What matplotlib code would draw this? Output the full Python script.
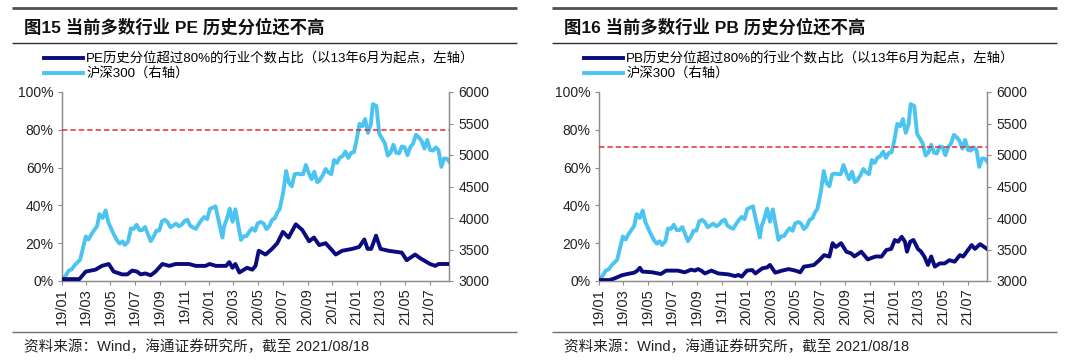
import matplotlib
matplotlib.use("Agg")
import matplotlib.pyplot as plt
import matplotlib.dates as mdates
from matplotlib.lines import Line2D
from matplotlib.ticker import MultipleLocator, FuncFormatter
import pandas as pd

plt.rcParams['font.family'] = ['Liberation Sans', 'Noto Sans CJK SC', 'DejaVu Sans']

# ---------------- data ----------------
hs300_dates = [
    "2019-01-04","2019-01-11","2019-01-18","2019-01-25","2019-02-01","2019-02-15","2019-02-22","2019-03-01",
    "2019-03-08","2019-03-15","2019-03-22","2019-03-29","2019-04-04","2019-04-12","2019-04-19","2019-04-26",
    "2019-05-10","2019-05-17","2019-05-24","2019-05-31","2019-06-06","2019-06-14","2019-06-21","2019-06-28",
    "2019-07-05","2019-07-12","2019-07-19","2019-07-26","2019-08-02","2019-08-09","2019-08-16","2019-08-23",
    "2019-08-30","2019-09-06","2019-09-13","2019-09-20","2019-09-27","2019-10-11","2019-10-18","2019-10-25",
    "2019-11-01","2019-11-08","2019-11-15","2019-11-22","2019-11-29","2019-12-06","2019-12-13","2019-12-20",
    "2019-12-27","2020-01-03","2020-01-10","2020-01-17","2020-01-23","2020-02-03","2020-02-07","2020-02-14",
    "2020-02-21","2020-02-28","2020-03-06","2020-03-13","2020-03-20","2020-03-27","2020-04-03","2020-04-10",
    "2020-04-17","2020-04-24","2020-04-30","2020-05-08","2020-05-15","2020-05-22","2020-05-29","2020-06-05",
    "2020-06-12","2020-06-19","2020-06-24","2020-07-03","2020-07-10","2020-07-17","2020-07-24","2020-07-31",
    "2020-08-07","2020-08-14","2020-08-21","2020-08-28","2020-09-04","2020-09-11","2020-09-18","2020-09-25",
    "2020-09-30","2020-10-09","2020-10-16","2020-10-23","2020-10-30","2020-11-06","2020-11-13","2020-11-20",
    "2020-11-27","2020-12-04","2020-12-11","2020-12-18","2020-12-25","2020-12-31","2021-01-08","2021-01-15",
    "2021-01-22","2021-01-29","2021-02-05","2021-02-10","2021-02-19","2021-02-26","2021-03-05","2021-03-12",
    "2021-03-19","2021-03-26","2021-04-02","2021-04-09","2021-04-16","2021-04-23","2021-04-30","2021-05-07",
    "2021-05-14","2021-05-21","2021-05-28","2021-06-04","2021-06-11","2021-06-18","2021-06-25","2021-07-02",
    "2021-07-09","2021-07-16","2021-07-23","2021-07-30","2021-08-06","2021-08-13","2021-08-18"]
hs300_values = [
    3035,3094,3168,3184,3247,3338,3521,3707,
    3658,3745,3809,3872,4062,4000,4120,3930,
    3734,3649,3593,3630,3572,3627,3835,3826,
    3893,3808,3808,3858,3747,3633,3701,3798,
    3799,3948,3972,3935,3853,3911,3869,3895,
    3952,3973,3877,3849,3828,3902,3968,4017,
    3982,4144,4164,4186,4003,3689,3865,3987,
    4149,3940,4138,3895,3653,3710,3713,3788,
    3839,3796,3912,3937,3913,3824,3867,3970,
    3996,4098,4138,4415,4747,4556,4505,4695,
    4704,4696,4695,4842,4714,4616,4735,4570,
    4587,4681,4778,4723,4695,4921,4874,4959,
    4980,5054,4954,5034,5043,5211,5495,5458,
    5570,5351,5484,5807,5778,5336,5262,5184,
    4991,5037,5162,5036,5026,5135,5123,4997,
    5125,5182,5321,5282,5224,5102,5240,5081,
    5070,5121,5080,4811,4947,4939,4899]

pe_dates = [
    "2019-01-02","2019-02-13","2019-03-01","2019-03-25","2019-04-10","2019-04-27","2019-05-09","2019-05-30",
    "2019-06-12","2019-06-24","2019-07-06","2019-07-15","2019-07-27","2019-08-09","2019-08-21","2019-09-07",
    "2019-09-24","2019-10-10","2019-11-12","2019-11-29","2019-12-23","2020-01-02","2020-01-18","2020-02-12",
    "2020-02-20","2020-02-28","2020-03-06","2020-03-16","2020-04-04","2020-04-17","2020-04-25","2020-05-03",
    "2020-05-20","2020-06-05","2020-06-18","2020-07-02","2020-07-16","2020-08-03","2020-08-19","2020-09-05",
    "2020-09-17","2020-09-30","2020-10-16","2020-11-02","2020-11-10","2020-11-26","2020-12-21","2021-01-07",
    "2021-01-20","2021-01-28","2021-02-06","2021-02-18","2021-03-01","2021-03-21","2021-04-23","2021-05-05",
    "2021-05-26","2021-06-08","2021-07-02","2021-07-15","2021-07-23","2021-08-18"]
pe_values = [
    1,1,5,6,8,9,5,3.5,
    3.5,5.5,5,3.5,4,3,5,9,
    8,9,9,8,8,9,8,8,
    10,7,9,4.5,7,6,8,16,
    14,17,20,26,23,30,27,21,
    23,19,20,16,14,16,17,18,
    22,17,17,24,17,16,15,11,
    14,12,9,8,9,9]

pb_dates = [
    "2019-01-02","2019-01-27","2019-02-09","2019-02-26","2019-03-12","2019-03-29","2019-04-06","2019-04-12",
    "2019-04-18","2019-05-13","2019-06-03","2019-06-16","2019-07-15","2019-08-01","2019-08-17","2019-08-26",
    "2019-09-03","2019-09-11","2019-09-20","2019-10-06","2019-10-23","2019-11-17","2019-12-04","2019-12-12",
    "2019-12-20","2020-01-02","2020-01-15","2020-01-23","2020-02-09","2020-02-21","2020-02-28","2020-03-12",
    "2020-03-29","2020-04-14","2020-05-01","2020-05-13","2020-05-22","2020-06-04","2020-06-16","2020-06-29",
    "2020-07-11","2020-07-24","2020-08-01","2020-08-09","2020-08-22","2020-09-04","2020-09-16","2020-09-24",
    "2020-10-11","2020-10-27","2020-11-09","2020-11-17","2020-11-30","2020-12-12","2020-12-24","2021-01-02",
    "2021-01-10","2021-01-19","2021-01-27","2021-02-01","2021-02-09","2021-02-17","2021-02-28","2021-03-08",
    "2021-03-16","2021-03-25","2021-04-02","2021-04-11","2021-04-23","2021-05-05","2021-05-17","2021-05-30",
    "2021-06-12","2021-06-20","2021-07-02","2021-07-11","2021-07-19","2021-08-01","2021-08-18"]
pb_values = [
    0.5,0.5,1.4,3,3.7,4.4,5.5,7,
    5,4.6,3.7,5.5,5.5,4.6,6,5.5,
    6.3,5.5,4,5.5,4,3.5,2.6,3.2,
    2.3,5.5,5.8,4,6.7,7.2,8.5,4.4,
    5.5,6.3,5.5,4.6,7.6,8,8.5,11,
    13.7,12.9,20,18,20,15.5,14.6,13,
    15.5,11.4,12.5,13,12.9,16.4,17,21.7,
    20.8,23.4,20.8,15.5,20.8,21.7,17,15.5,
    12.9,8.5,13,7.6,9.3,9.3,11,10.2,
    13.7,12.9,16.4,19,17,19.5,17]

pe_threshold = 80
pb_threshold = 71

titles = ["图15 当前多数行业 PE 历史分位还不高", "图16 当前多数行业 PB 历史分位还不高"]
legend_pct = ["PE历史分位超过80%的行业个数占比（以13年6月为起点，左轴）",
              "PB历史分位超过80%的行业个数占比（以13年6月为起点，左轴）"]
legend_hs = "沪深300（右轴）"
source_text = "资料来源：Wind，海通证券研究所，截至 2021/08/18"

# ---------------- drawing ----------------
W, H = 1080, 362
fig = plt.figure(figsize=(W / 100, H / 100), dpi=100)

NAVY = "#0B0B80"
LIGHT = "#4CC4F0"
RED = "#E0302E"
SPINE = "#8C8C8C"
TXT = "#222222"


def fx(px):
    return px / W


def fy(py):
    return 1 - py / H


def hline(x0, x1, y, lw, color):
    fig.add_artist(Line2D([fx(x0), fx(x1)], [fy(y), fy(y)], transform=fig.transFigure,
                          lw=lw, color=color, solid_capstyle="butt"))


def panel(off, ax_left, ax_right, title, pct_dates, pct_vals, thr, leg_label):
    # decorations
    hline(off + 12, off + 517, 8, 2.0, "#505050")
    hline(off + 12, off + 517, 43, 1.0, "#303030")
    hline(off + 12, off + 517, 332, 1.0, "#707070")
    fig.text(fx(off + 24), fy(27), title, fontsize=12.5, fontweight="bold",
             va="center", ha="left", color="#111111")
    fig.text(fx(off + 24), fy(347), source_text, fontsize=10.5,
             va="center", ha="left", color=TXT)

    top, bottom = 92, 281
    ax = fig.add_axes([fx(ax_left), fy(bottom), fx(ax_right - ax_left), (bottom - top) / H])
    ax2 = ax.twinx()

    d_pct = pd.to_datetime(pct_dates)
    d_hs = pd.to_datetime(hs300_dates)
    l2, = ax2.plot(d_hs, hs300_values, color=LIGHT, lw=2.8, solid_joinstyle="round")
    l1, = ax.plot(d_pct, pct_vals, color=NAVY, lw=2.8, solid_joinstyle="round", zorder=5)
    ax.set_zorder(ax2.get_zorder() + 1)
    ax.patch.set_visible(False)
    ax.axhline(thr, color=RED, lw=1.1, ls=(0, (3.5, 2)), zorder=4)

    ax.set_xlim(pd.Timestamp("2019-01-01"), pd.Timestamp("2021-08-18"))
    ax.set_ylim(0, 100)
    ax2.set_ylim(3000, 6000)
    ax.yaxis.set_major_locator(MultipleLocator(20))
    ax.yaxis.set_major_formatter(FuncFormatter(lambda v, p: f"{v:.0f}%"))
    ax2.yaxis.set_major_locator(MultipleLocator(500))
    ax.xaxis.set_major_locator(mdates.MonthLocator(bymonth=[1, 3, 5, 7, 9, 11]))
    ax.xaxis.set_major_formatter(mdates.DateFormatter("%y/%m"))
    for lab in ax.get_xticklabels():
        lab.set_rotation(90)

    for a in (ax, ax2):
        a.spines["top"].set_visible(False)
        for s in ("left", "right", "bottom"):
            a.spines[s].set_color(SPINE)
            a.spines[s].set_linewidth(0.9)
        a.tick_params(colors=SPINE, labelcolor=TXT, labelsize=10, length=3, width=0.8)
    ax.tick_params(axis="x", labelsize=10.5, pad=2)
    ax.tick_params(axis="y", pad=3)
    ax2.tick_params(axis="y", pad=4)

    fig.legend([l1, l2], [leg_label, legend_hs], loc="upper left",
               bbox_to_anchor=(fx(off + 44), fy(52)), bbox_transform=fig.transFigure,
               frameon=False, fontsize=9.6, handlelength=2.9, handletextpad=0.25,
               borderpad=0, borderaxespad=0, labelspacing=0.15)


panel(0, 62, 449, titles[0], pe_dates, pe_values, pe_threshold, legend_pct[0])
panel(540, 599, 987, titles[1], pb_dates, pb_values, pb_threshold, legend_pct[1])

fig.savefig("out.png", dpi=100)
